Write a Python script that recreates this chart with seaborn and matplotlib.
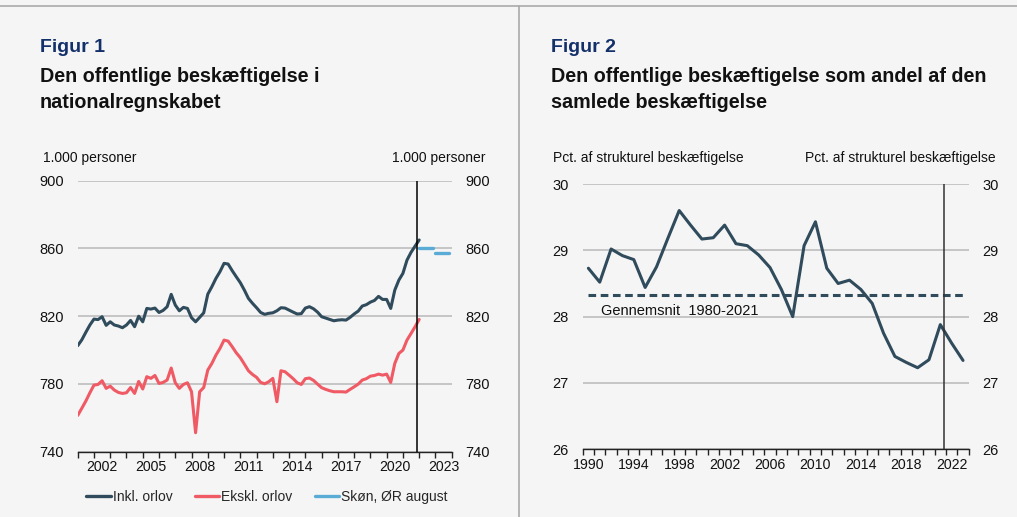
import numpy as np
import pandas as pd
import matplotlib
matplotlib.use("Agg")
import matplotlib.pyplot as plt
from matplotlib.lines import Line2D
import seaborn as sns

# ---------------- data ----------------
quarters = pd.period_range("2001Q1", "2022Q1", freq="Q")
inkl_orlov = [802.6, 806.0, 810.5, 814.8, 818.3, 818.0, 819.7, 814.6, 816.7, 814.8,
              814.2, 813.2, 814.8, 817.5, 813.8, 820.0, 816.7, 824.6, 824.2, 824.8,
              822.2, 823.4, 825.6, 832.9, 826.6, 823.2, 825.2, 824.6, 819.1, 816.7,
              819.3, 822.0, 833.0, 837.4, 842.3, 846.3, 851.2, 850.8, 846.9, 843.3,
              839.8, 835.4, 830.5, 827.6, 825.0, 822.2, 821.1, 821.7, 822.0, 823.2,
              825.0, 824.8, 823.6, 822.4, 821.3, 821.5, 824.8, 825.6, 824.4, 822.4,
              819.7, 818.9, 818.1, 817.3, 817.7, 817.9, 817.7, 819.3, 821.3, 823.0,
              826.0, 826.8, 828.3, 829.3, 831.7, 829.9, 829.9, 824.6, 835.4, 841.3,
              845.3, 853.1, 857.7, 861.4, 865.0]
ekskl_orlov = [761.4, 765.6, 769.9, 774.8, 779.3, 779.7, 781.9, 777.4, 778.7, 776.4,
               775.0, 774.4, 774.8, 777.9, 774.4, 781.5, 777.0, 784.3, 783.3, 785.0,
               780.3, 780.9, 782.3, 789.4, 780.7, 777.4, 779.7, 780.7, 775.4, 751.2,
               775.4, 777.9, 788.2, 792.1, 797.0, 801.0, 805.9, 805.3, 802.0, 798.4,
               795.5, 791.7, 787.8, 785.6, 783.9, 780.9, 780.1, 781.3, 783.3, 769.5,
               787.8, 787.2, 785.2, 783.1, 780.7, 779.7, 783.1, 783.5, 782.1, 779.9,
               777.8, 776.8, 776.0, 775.4, 775.4, 775.4, 775.2, 776.8, 778.3, 779.9,
               782.3, 783.1, 784.6, 785.0, 785.8, 785.2, 785.8, 780.9, 792.1, 798.0,
               800.0, 805.9, 809.8, 813.8, 818.1]
skon_years = [2022, 2023]
skon_vals = [860.5, 857.5]
left_yticks = [740, 780, 820, 860, 900]
left_xlabels = [2002, 2005, 2008, 2011, 2014, 2017, 2020, 2023]

years2 = list(range(1990, 2024))
andel = [28.73, 28.52, 29.02, 28.92, 28.86, 28.44, 28.75, 29.18, 29.60, 29.38,
         29.17, 29.19, 29.38, 29.10, 29.07, 28.93, 28.74, 28.41, 28.00, 29.07,
         29.43, 28.73, 28.50, 28.55, 28.41, 28.20, 27.75, 27.40, 27.31, 27.23,
         27.35, 27.88, 27.60, 27.34]
gennemsnit = 28.33
right_yticks = [26, 27, 28, 29, 30]
right_xlabels = [1990, 1994, 1998, 2002, 2006, 2010, 2014, 2018, 2022]

# ---------------- style ----------------
BG = "#F5F5F5"
DARK = "#2F4B5C"
RED = "#EF5A65"
BLUE = "#5AACD6"
NAVY = "#14306A"
GRID = "#BDBDBD"

sns.set_theme(style="white")
plt.rcParams["font.family"] = ["Liberation Sans", "DejaVu Sans"]
plt.rcParams["font.size"] = 10

W, H = 1017, 517
fig = plt.figure(figsize=(W / 100, H / 100), dpi=100, facecolor=BG)


def fx(px):
    return px / W


def fy(py):
    return 1 - py / H


ax1 = fig.add_axes([fx(77.7), fy(451.7), fx(451.7 - 77.7), (451.7 - 180.7) / H])
ax2 = fig.add_axes([fx(582.7), fy(449.3), fx(968.7 - 582.7), (449.3 - 184) / H])

LW = 2.2

# ---------------- left chart ----------------
xq = np.array([p.year + (p.quarter - 1) / 4 for p in quarters])
sns.lineplot(x=xq, y=inkl_orlov, ax=ax1, color=DARK, lw=LW)
sns.lineplot(x=xq, y=ekskl_orlov, ax=ax1, color=RED, lw=LW)
for yr, v in zip(skon_years, skon_vals):
    sns.lineplot(x=[yr, yr + 0.85], y=[v, v], ax=ax1, color=BLUE, lw=2.4)
ax1.axvline(2021.86, color="black", lw=1.1, zorder=3)

# ---------------- right chart ----------------
sns.lineplot(x=years2, y=andel, ax=ax2, color=DARK, lw=LW)
sns.lineplot(x=[years2[0], years2[-1]], y=[gennemsnit, gennemsnit], ax=ax2,
             color=DARK, lw=LW, dashes=False, linestyle=(0, (2.5, 1.5)))
ax2.axvline(2021.33, color="#333333", lw=1.1, zorder=3)
ax2.text(1991.1, 28.08, "Gennemsnit  1980-2021", fontsize=10.5, va="center",
         ha="left", color="#111111")

# ---------------- axes formatting ----------------
def style_axis(ax, ylim, yticks, xlim, xlabels, label_offset, minor_ticks, ypad_l):
    ax.set_facecolor(BG)
    ax.set_xlim(*xlim)
    ax.set_ylim(*ylim)
    ax.set_yticks(yticks)
    ax.set_yticklabels([str(t) for t in yticks])
    ax.yaxis.grid(True, color=GRID, lw=1.2)
    ax.xaxis.grid(False)
    ax.set_axisbelow(True)
    for s in ["left", "right", "top"]:
        ax.spines[s].set_visible(False)
    ax.spines["bottom"].set_color("#222222")
    ax.spines["bottom"].set_linewidth(1.0)
    ax.set_xticks([x + label_offset for x in xlabels])
    ax.set_xticklabels([str(x) for x in xlabels])
    ax.set_xticks(minor_ticks, minor=True)
    ax.tick_params(axis="x", which="major", length=0, pad=6, labelsize=10.2,
                   colors="#111111")
    ax.tick_params(axis="x", which="minor", length=4, width=1.0, color="#222222",
                   direction="out", bottom=True)
    ax.tick_params(axis="y", which="both", length=0, labelleft=True,
                   labelright=True, pad=ypad_l, labelsize=10.5, colors="#111111")
    ax.set_xlabel("")
    ax.set_ylabel("")
    if ax.get_legend() is not None:
        ax.get_legend().remove()


style_axis(ax1, (740, 900), left_yticks, (2001, 2024), left_xlabels, 0.5,
           list(range(2001, 2025)), 10)
style_axis(ax2, (26, 30), right_yticks, (1989.5, 2023.5), right_xlabels, 0.0,
           [y - 0.5 for y in range(1990, 2025)], 10)

# ---------------- legend ----------------
handles = [Line2D([], [], color=DARK, lw=2.4),
           Line2D([], [], color=RED, lw=2.4),
           Line2D([], [], color=BLUE, lw=2.4)]
fig.legend(handles, ["Inkl. orlov", "Ekskl. orlov", "Skøn, ØR august"],
           loc="center", bbox_to_anchor=(fx(267), fy(497)), ncol=3,
           frameon=False, fontsize=10, handlelength=1.75, handletextpad=0.15,
           columnspacing=1.6)

# ---------------- texts ----------------
fig.text(fx(40), fy(48), "Figur 1", fontsize=14, fontweight="bold", color=NAVY,
         va="center", ha="left")
fig.text(fx(40), fy(76), "Den offentlige beskæftigelse i", fontsize=14.2,
         fontweight="bold", color="#111111", va="center", ha="left")
fig.text(fx(40), fy(103), "nationalregnskabet", fontsize=14.2,
         fontweight="bold", color="#111111", va="center", ha="left")
fig.text(fx(551), fy(48), "Figur 2", fontsize=14, fontweight="bold", color=NAVY,
         va="center", ha="left")
fig.text(fx(551), fy(76), "Den offentlige beskæftigelse som andel af den",
         fontsize=14.2, fontweight="bold", color="#111111", va="center", ha="left")
fig.text(fx(551), fy(103), "samlede beskæftigelse", fontsize=14.2,
         fontweight="bold", color="#111111", va="center", ha="left")

fig.text(fx(43), fy(158), "1.000 personer", fontsize=10, va="center", ha="left",
         color="#111111")
fig.text(fx(486), fy(158), "1.000 personer", fontsize=10, va="center",
         ha="right", color="#111111")
fig.text(fx(553), fy(158), "Pct. af strukturel beskæftigelse", fontsize=10,
         va="center", ha="left", color="#111111")
fig.text(fx(996), fy(158), "Pct. af strukturel beskæftigelse", fontsize=10,
         va="center", ha="right", color="#111111")

# separators
fig.add_artist(Line2D([0, 1], [fy(6), fy(6)], transform=fig.transFigure,
                      color="#AAAAAA", lw=1.2))
fig.add_artist(Line2D([fx(519), fx(519)], [fy(6), 0], transform=fig.transFigure,
                      color="#AAAAAA", lw=1.2))

fig.savefig("out.png", dpi=100, facecolor=BG)
